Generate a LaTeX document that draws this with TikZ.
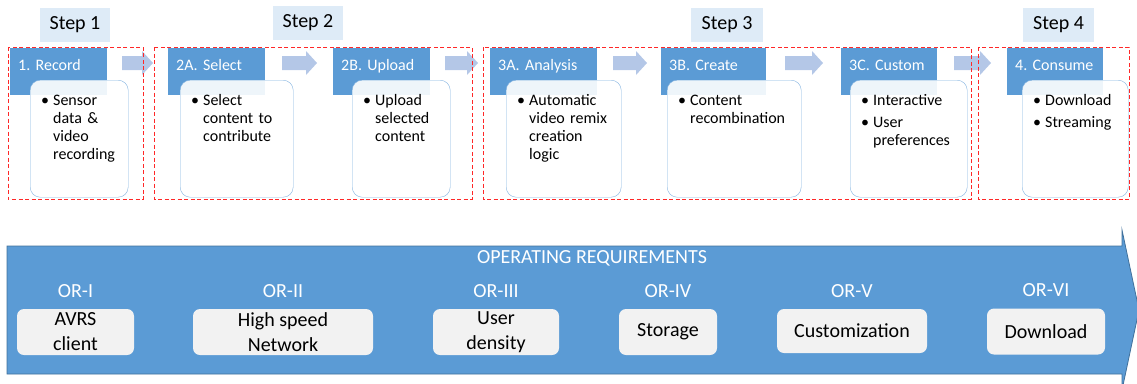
\documentclass[tikz,border=0pt]{standalone}
\usepackage{fontspec}
\setmainfont{Carlito}
\frenchspacing
\usepackage{tikz}
\usetikzlibrary{positioning}
\definecolor{headblue}{RGB}{91,155,213}
\definecolor{barline}{RGB}{65,113,156}
\definecolor{flowblue}{RGB}{180,199,231}
\definecolor{steptint}{RGB}{222,235,247}
\definecolor{cardline}{RGB}{130,178,224}
\definecolor{reqgray}{RGB}{242,242,242}
\definecolor{framered}{RGB}{255,40,40}

\newcommand{\bulletitem}[1]{\hangindent=12pt\hangafter=1\noindent\makebox[12pt][l]{\textbullet}#1\par}

\begin{document}
\begin{tikzpicture}[x=1pt, y=-1pt,
    steplabel/.style={rectangle, fill=steptint, minimum width=70pt, minimum height=34pt,
                      inner sep=0pt, font=\fontsize{20}{24}\selectfont},
    header/.style={rectangle, fill=headblue, anchor=north west, align=left, inner xsep=8pt,
                   inner ysep=0pt, text height=22pt, text depth=25pt, text=white,
                   font=\fontsize{16}{18}\selectfont},
    card/.style={rectangle, rounded corners=10pt, draw=cardline, fill=white, fill opacity=0.9,
                 anchor=north west, minimum height=117pt, inner sep=0pt},
    bullets/.style={anchor=base west, align=left, text width=120pt, inner sep=0pt,
                    font=\fontsize{16}{18}\selectfont},
    flowarrow/.style={fill=flowblue},
    stepframe/.style={draw=framered, dash pattern=on 4pt off 2.5pt, line width=0.9pt},
    reqbar/.style={fill=headblue, draw=barline, line width=0.8pt},
    reqbox/.style={rectangle, fill=reqgray, rounded corners=7pt, minimum height=46pt,
                   inner sep=0pt, align=center, font=\fontsize{20}{25}\selectfont},
    reqlabel/.style={text=white, inner sep=0pt, font=\fontsize{20}{24}\selectfont}
  ]
  \useasboundingbox (0,0) rectangle (1137,383);

  % step titles
  \node[steplabel] (step1) at (75,24.5) {Step 1};
  \node[steplabel] (step2) at (308,23) {Step 2};
  \node[steplabel, minimum width=72pt] (step3) at (727,25) {Step 3};
  \node[steplabel, minimum width=71pt] (step4) at (1058.5,25) {Step 4};

  % stage headers
  \node[header, text width=81pt] (record) at (10,48) {1. Record};
  \node[header, text width=81pt] (select) at (168,48) {2A. Select};
  \node[header, text width=81pt] (upload) at (333,48) {2B. Upload};
  \node[header, text width=91pt] (analysis) at (490,48) {3A. Analysis};
  \node[header, text width=89pt] (create) at (661,48) {3B. Create};
  \node[header, text width=80pt] (custom) at (841,48) {3C. Custom};
  \node[header, text width=80pt] (consume) at (1007,48) {4. Consume};

  % cards
  \node[card, minimum width=98pt] (recordcard) at (30,80) {};
  \node[card, minimum width=113pt] (selectcard) at (180,80) {};
  \node[card, minimum width=98pt] (uploadcard) at (352,80) {};
  \node[card, minimum width=115pt] (analysiscard) at (506,80) {};
  \node[card, minimum width=134pt] (createcard) at (667,80) {};
  \node[card, minimum width=117pt] (customcard) at (850,80) {};
  \node[card, minimum width=106pt] (consumecard) at (1022,80) {};

  \node[bullets] (recordtext) at (41,105) {\bulletitem{Sensor\newline data \&\newline video\newline recording}};
  \node[bullets] (selecttext) at (191,105) {\bulletitem{Select\newline content to\newline contribute}};
  \node[bullets] (uploadtext) at (363,105) {\bulletitem{Upload\newline selected\newline content}};
  \node[bullets] (analysistext) at (517,105) {\bulletitem{Automatic\newline video remix\newline creation\newline logic}};
  \node[bullets] (createtext) at (678,105) {\bulletitem{Content\newline recombination}};
  \node[bullets] (customtext) at (861,105) {\bulletitem{Interactive}\vspace{4pt}\bulletitem{User\newline preferences}};
  \node[bullets] (consumetext) at (1033,105) {\bulletitem{Download}\vspace{4pt}\bulletitem{Streaming}};

  % block arrows between stages
  \fill[flowarrow] (122,56) -- (142,56) -- (142,51) -- (153,63) -- (142,75) -- (142,70) -- (122,70) -- cycle;
  \fill[flowarrow] (282,56) -- (306,56) -- (306,51) -- (317,63) -- (306,75) -- (306,70) -- (282,70) -- cycle;
  \fill[flowarrow] (445,56) -- (467,56) -- (467,51) -- (478,63) -- (467,75) -- (467,70) -- (445,70) -- cycle;
  \fill[flowarrow] (613,56) -- (636,56) -- (636,51) -- (647,63) -- (636,75) -- (636,70) -- (613,70) -- cycle;
  \fill[flowarrow] (785,56) -- (812,56) -- (812,51) -- (823,63) -- (812,75) -- (812,70) -- (785,70) -- cycle;
  \fill[flowarrow] (954,56) -- (980,56) -- (980,51) -- (991,63) -- (980,75) -- (980,70) -- (954,70) -- cycle;

  % step frames
  \draw[stepframe] (8,47) rectangle (143,199);
  \draw[stepframe] (154,47) rectangle (472,199);
  \draw[stepframe] (483,47) rectangle (971,199);
  \draw[stepframe] (978,47) rectangle (1129,199);

  % operating requirements
  \draw[reqbar] (7,246) -- (1122,246) -- (1122,230) -- (1139,310) -- (1122,390) -- (1122,374) -- (7,374) -- cycle;
  \node[reqlabel] (reqtitle) at (592,258) {OPERATING REQUIREMENTS};

  \node[reqbox, minimum width=117pt] (avrs) at (75.5,332) {AVRS\\client};
  \node[reqbox, minimum width=180pt] (network) at (283,332) {High speed\\Network};
  \node[reqbox, minimum width=126pt] (density) at (496,332) {User\\density};
  \node[reqbox, minimum width=98pt] (storage) at (668,332) {Storage};
  \node[reqbox, minimum width=150pt, minimum height=44pt] (tailoring) at (852,331) {Customization};
  \node[reqbox, minimum width=118pt] (download) at (1046,331.5) {Download};

  \node[reqlabel, above=11pt of avrs] (or1) {OR-I};
  \node[reqlabel, above=11pt of network] (or2) {OR-II};
  \node[reqlabel, above=11pt of density] (or3) {OR-III};
  \node[reqlabel, above=11pt of storage] (or4) {OR-IV};
  \node[reqlabel, above=11pt of tailoring] (or5) {OR-V};
  \node[reqlabel, above=11pt of download] (or6) {OR-VI};
\end{tikzpicture}
\end{document}
